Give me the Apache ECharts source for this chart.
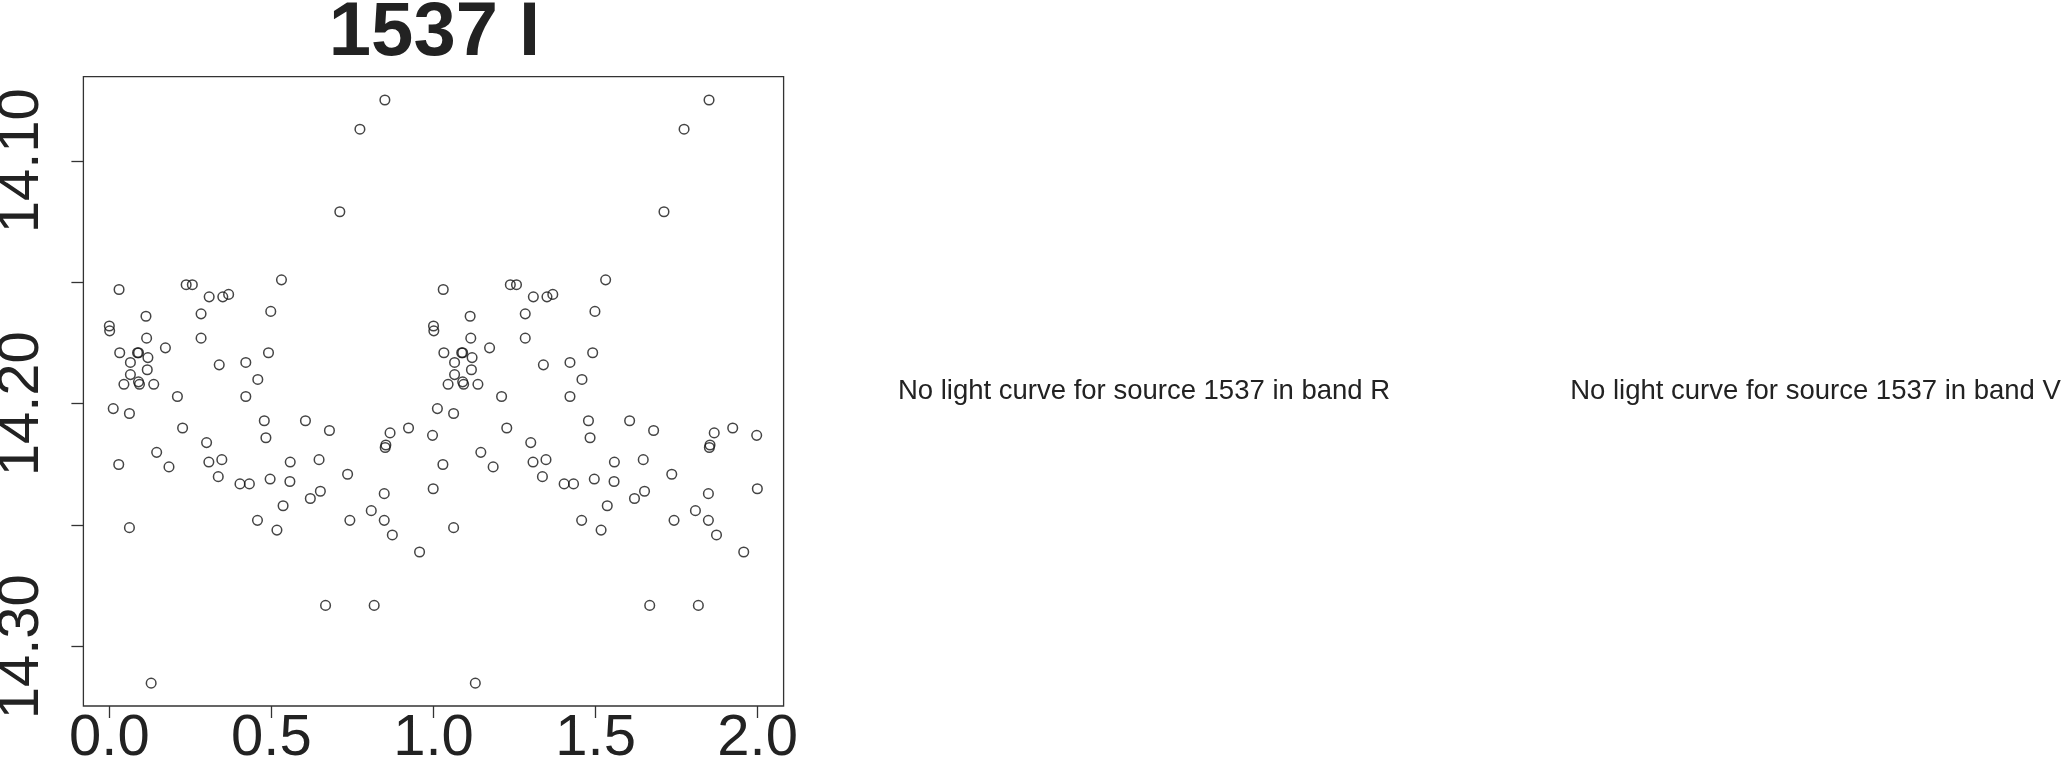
<!DOCTYPE html>
<html>
<head>
<meta charset="utf-8">
<title>1537 I</title>
<script src="https://cdn.jsdelivr.net/npm/echarts@6/dist/echarts.min.js"></script>
<style>
  html, body { margin: 0; padding: 0; background: #ffffff; }
  #chart { width: 2064px; height: 764px; }
</style>
</head>
<body>
<div id="chart"></div>
<script>
// Phase-folded light curve of source 1537, band I (first cycle, phase 0..1)
const phaseCycle1 = [
  0.000, 0.001, 0.012, 0.029, 0.030, 0.032, 0.045, 0.062, 0.062, 0.065,
  0.065, 0.087, 0.090, 0.090, 0.093, 0.113, 0.115, 0.117, 0.119, 0.129,
  0.137, 0.146, 0.173, 0.184, 0.210, 0.226, 0.237, 0.256, 0.283, 0.283,
  0.300, 0.307, 0.308, 0.336, 0.339, 0.347, 0.350, 0.368, 0.403, 0.421,
  0.421, 0.432, 0.457, 0.458, 0.478, 0.483, 0.491, 0.496, 0.498, 0.517,
  0.531, 0.536, 0.557, 0.558, 0.605, 0.620, 0.647, 0.651, 0.667, 0.679,
  0.711, 0.735, 0.742, 0.773, 0.808, 0.817, 0.848, 0.848, 0.850, 0.851,
  0.853, 0.866, 0.873, 0.923, 0.957, 0.997, 0.999
];
const magCycle1 = [
  14.168, 14.170, 14.202, 14.225, 14.153, 14.179, 14.192, 14.204, 14.251, 14.183,
  14.188, 14.179, 14.179, 14.191, 14.192, 14.164, 14.173, 14.186, 14.181, 14.315,
  14.192, 14.220, 14.177, 14.226, 14.197, 14.210, 14.151, 14.151, 14.163, 14.173,
  14.216, 14.224, 14.156, 14.230, 14.184, 14.223, 14.156, 14.155, 14.233, 14.183,
  14.197, 14.233, 14.248, 14.190, 14.207, 14.214, 14.179, 14.231, 14.162, 14.252,
  14.149, 14.242, 14.232, 14.224, 14.207, 14.239, 14.223, 14.236, 14.283, 14.211,
  14.121, 14.229, 14.248, 14.087, 14.244, 14.283, 14.237, 14.248, 14.075, 14.218,
  14.217, 14.212, 14.254, 14.210, 14.261, 14.213, 14.235
];
// The plot repeats the same observations over a second cycle (phase + 1)
const cycleOffsets = [0, 1];

const xTickValues = [0, 0.5, 1.0, 1.5, 2.0];
const yTickValues = [14.10, 14.15, 14.20, 14.25, 14.30];
const yLabelValues = [14.10, 14.20, 14.30];

const titleText = '1537 I';
const missingTexts = [
  'No light curve for source 1537 in band R',
  'No light curve for source 1537 in band V'
];

const points = [];
cycleOffsets.forEach(function (off) {
  for (let i = 0; i < phaseCycle1.length; i++) {
    points.push([phaseCycle1[i] + off, magCycle1[i]]);
  }
});

const FONT = '"Liberation Sans", Arial, Helvetica, sans-serif';
const INK = '#222222';

const chart = echarts.init(document.getElementById('chart'), null, { renderer: 'canvas' });
chart.setOption({
  animation: false,
  backgroundColor: '#ffffff',
  grid: {
    left: 83.4, top: 76.7, width: 700.2, height: 629.3,
    show: true, borderColor: '#333333', borderWidth: 1.3, backgroundColor: 'transparent',
    containLabel: false,
    outerBoundsMode: 'none'
  },
  xAxis: {
    type: 'value',
    min: -0.08, max: 2.08,
    axisLine: { show: false, onZero: false },
    splitLine: { show: false },
    axisTick: {
      show: true, inside: false, length: 12,
      customValues: xTickValues,
      lineStyle: { color: '#333333', width: 1.3 }
    },
    axisLabel: {
      show: true,
      customValues: xTickValues,
      formatter: function (v) { return v.toFixed(1); },
      fontSize: 58, fontFamily: FONT, color: INK,
      margin: 33, verticalAlign: 'middle', align: 'center'
    }
  },
  yAxis: {
    type: 'value',
    inverse: true,
    min: 14.0654, max: 14.3244,
    axisLine: { show: false, onZero: false },
    splitLine: { show: false },
    axisTick: {
      show: true, inside: false, length: 12,
      customValues: yTickValues,
      lineStyle: { color: '#333333', width: 1.3 }
    },
    axisLabel: {
      show: true,
      customValues: yLabelValues,
      formatter: function (v) { return v.toFixed(2); },
      rotate: 90,
      fontSize: 58, fontFamily: FONT, color: INK,
      margin: 61, align: 'center', verticalAlign: 'middle'
    }
  },
  series: [{
    type: 'scatter',
    data: points,
    symbol: 'circle',
    symbolSize: 9.6,
    itemStyle: { color: 'transparent', borderColor: '#151515', borderWidth: 1.5 },
    emphasis: { disabled: true },
    clip: true
  }],
  graphic: [
    {
      type: 'text', x: 434.5, y: 34,
      style: { text: titleText, font: 'bold 76px ' + FONT, fill: INK, align: 'center', verticalAlign: 'middle' }
    },
    {
      type: 'text', x: 1144, y: 391,
      style: { text: missingTexts[0], font: '27.5px ' + FONT, fill: INK, align: 'center', verticalAlign: 'middle' }
    },
    {
      type: 'text', x: 1815.5, y: 391,
      style: { text: missingTexts[1], font: '27.5px ' + FONT, fill: INK, align: 'center', verticalAlign: 'middle' }
    }
  ]
});
</script>
</body>
</html>
